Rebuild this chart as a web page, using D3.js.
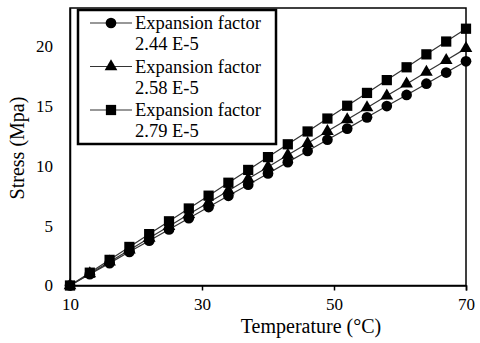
<!DOCTYPE html>
<html lang="en">
<meta charset="utf-8">
<head>
    <script src='https://d3js.org/d3.v7.min.js'></script>
    <style>
        body { margin: 0; background: #fff; }
        text { font-family: "Liberation Serif", "Times New Roman", serif; fill: #000; }
    </style>
</head>
<body>
<script>
// temperatures (°C)
const temps = [10, 13, 16, 19, 22, 25, 28, 31, 34, 37, 40, 43, 46, 49, 52, 55, 58, 61, 64, 67, 70];
// stress (Mpa) for each expansion factor
const stress244 = [0, 0.94, 1.87, 2.81, 3.74, 4.68, 5.62, 6.55, 7.49, 8.42, 9.36, 10.3, 11.23, 12.17, 13.1, 14.04, 14.98, 15.91, 16.85, 17.78, 18.72];
const stress258 = [0, 0.99, 1.98, 2.97, 3.96, 4.95, 5.94, 6.93, 7.92, 8.91, 9.9, 10.89, 11.88, 12.87, 13.86, 14.85, 15.84, 16.83, 17.82, 18.81, 19.8];
const stress279 = [0, 1.07, 2.14, 3.22, 4.29, 5.36, 6.43, 7.5, 8.58, 9.65, 10.72, 11.79, 12.86, 13.94, 15.01, 16.08, 17.15, 18.22, 19.3, 20.37, 21.44];
const seriesNames = ["2.44 E-5", "2.58 E-5", "2.79 E-5"];
const xTicks = [10, 30, 50, 70];
const yTicks = [0, 5, 10, 15, 20];

const margin = {top: 8, right: 14, bottom: 57.5, left: 70};
const width = 480 - margin.left - margin.right;
const height = 343 - margin.top - margin.bottom;

var svg = d3.select("body")
    .append("svg")
    .attr("width", 480)
    .attr("height", 343);
var g = svg.append("g")
    .attr("transform", "translate(" + margin.left + "," + margin.top + ")");

var x = d3.scaleLinear().domain([10, 70]).range([0, width]);
var y = d3.scaleLinear().domain([0, 23.17]).range([height, 0]);

// frame
g.append("rect")
    .attr("width", width).attr("height", height)
    .attr("fill", "none").attr("stroke", "#000").attr("stroke-width", 1.5);

// X axis
var xAxis = g.append("g")
    .attr("transform", "translate(0," + height + ")")
    .call(d3.axisBottom(x).tickValues(xTicks).tickSize(5).tickPadding(7));
xAxis.select(".domain").attr("stroke-width", 1.5);
xAxis.selectAll("line").attr("stroke-width", 1.5);
xAxis.selectAll("text").style("font-size", "17px");

// Y axis
var yAxis = g.append("g")
    .call(d3.axisLeft(y).tickValues(yTicks).tickSize(0).tickPadding(17));
yAxis.select(".domain").attr("stroke-width", 1.5);
yAxis.selectAll("text").style("font-size", "17px");

// axis titles
svg.append("text")
    .attr("x", 311).attr("y", 333)
    .attr("text-anchor", "middle")
    .style("font-size", "20px")
    .text("Temperature (°C)");
svg.append("text")
    .attr("transform", "translate(24,148) rotate(-90)")
    .attr("text-anchor", "middle")
    .style("font-size", "20px")
    .text("Stress (Mpa)");

var series = [
    {name: seriesNames[0], values: stress244, shape: d3.symbolCircle, size: 90},
    {name: seriesNames[1], values: stress258, shape: d3.symbolTriangle, size: 70},
    {name: seriesNames[2], values: stress279, shape: d3.symbolSquare, size: 105}
];

var line = d3.line()
    .x(function(d, i) { return x(temps[i]); })
    .y(function(d) { return y(d); });

series.forEach(function(s) {
    g.append("path")
        .datum(s.values)
        .attr("d", line)
        .attr("fill", "none")
        .attr("stroke", "#333")
        .attr("stroke-width", 1.2);
});
series.forEach(function(s) {
    g.selectAll(null)
        .data(s.values)
        .enter()
        .append("path")
        .attr("transform", function(d, i) { return "translate(" + x(temps[i]) + "," + y(d) + ")"; })
        .attr("d", d3.symbol().type(s.shape).size(s.size))
        .attr("fill", "#000");
});

// legend
var legend = svg.append("g");
legend.append("rect")
    .attr("x", 78).attr("y", 10)
    .attr("width", 198).attr("height", 134)
    .attr("fill", "#fff").attr("stroke", "#000").attr("stroke-width", 2.5);
series.forEach(function(s, i) {
    var ly = 23 + i * 43.5;
    legend.append("line")
        .attr("x1", 90).attr("x2", 132)
        .attr("y1", ly).attr("y2", ly)
        .attr("stroke", "#333").attr("stroke-width", 1.2);
    legend.append("path")
        .attr("transform", "translate(111," + ly + ")")
        .attr("d", d3.symbol().type(s.shape).size(s.size))
        .attr("fill", "#000");
    legend.append("text")
        .attr("x", 135).attr("y", ly + 6)
        .style("font-size", "18.5px")
        .text("Expansion factor");
    legend.append("text")
        .attr("x", 135).attr("y", ly + 27)
        .style("font-size", "18.5px")
        .text(s.name);
});
</script>
</body>
</html>
